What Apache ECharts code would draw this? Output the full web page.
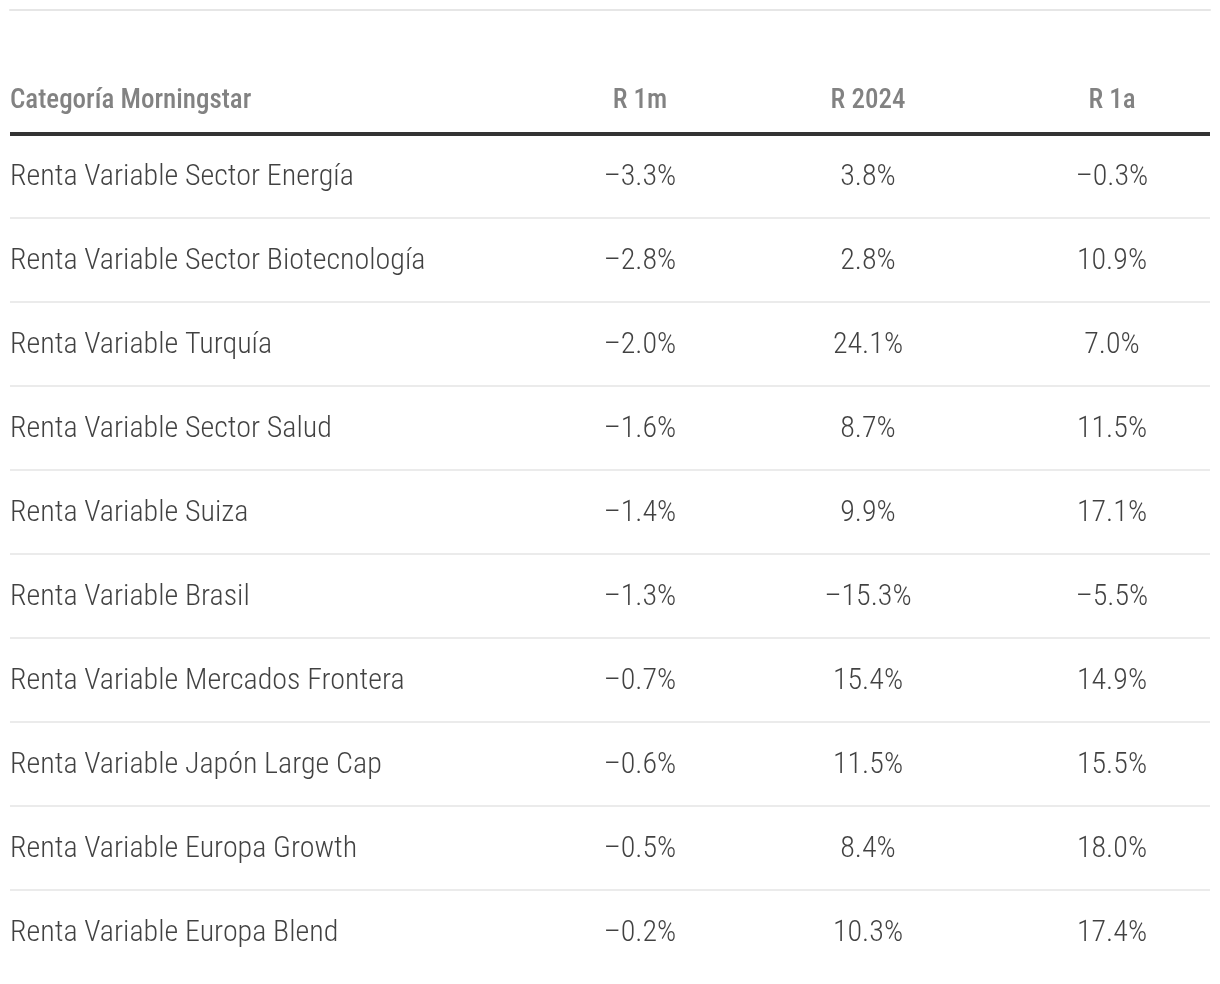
<!DOCTYPE html>
<html>
<head>
<meta charset="utf-8">
<style>
html,body{margin:0;padding:0;background:#fff;}
#chart{width:1220px;height:984px;}
</style>
<script src="https://cdn.jsdelivr.net/npm/echarts@6/dist/echarts.min.js"></script>
</head>
<body>
<div id="chart"></div>
<script>
// ---- data ----
const headers = ['Categoría Morningstar', 'R 1m', 'R 2024', 'R 1a'];
const categories = [
  'Renta Variable Sector Energía',
  'Renta Variable Sector Biotecnología',
  'Renta Variable Turquía',
  'Renta Variable Sector Salud',
  'Renta Variable Suiza',
  'Renta Variable Brasil',
  'Renta Variable Mercados Frontera',
  'Renta Variable Japón Large Cap',
  'Renta Variable Europa Growth',
  'Renta Variable Europa Blend'
];
const r1m   = [-3.3, -2.8, -2.0, -1.6, -1.4, -1.3, -0.7, -0.6, -0.5, -0.2];
const r2024 = [3.8, 2.8, 24.1, 8.7, 9.9, -15.3, 15.4, 11.5, 8.4, 10.3];
const r1a   = [-0.3, 10.9, 7.0, 11.5, 17.1, -5.5, 14.9, 15.5, 18.0, 17.4];

// ---- layout (not data) ----
const colX = [0, 630, 858, 1102];
const headerRow = -0.93;
const topRow = -1.976;
const FONT = '"Roboto Condensed","Liberation Sans Narrow","Arial Narrow","DejaVu Sans Condensed","Roboto",sans-serif';
const BODY = { fontFamily: FONT, fontSize: 30, fontWeight: 300, color: '#111111' };

function fmt(v) {
  const s = Math.abs(v).toFixed(1) + '%';
  return v < 0 ? '\u2013' + s : s;
}

const valueCols = [r1m, r2024, r1a];

const series = [];
// header row
series.push({
  type: 'scatter', symbolSize: 0, silent: true,
  data: headers.map((h, i) => ({ value: [colX[i], headerRow], name: h })),
  label: {
    show: true,
    formatter: p => p.name,
    position: 'inside', offset: [0, 3],
    fontFamily: FONT, fontSize: 27, fontWeight: 500, color: '#636363'
  }
});
series[0].data[0].label = { position: 'right', distance: 0, align: 'left', offset: [0, 3] };

// first column: category names (left aligned)
series.push({
  type: 'scatter', symbolSize: 0, silent: true,
  data: categories.map((c, i) => ({ value: [colX[0], i], name: c })),
  label: Object.assign({
    show: true, formatter: p => p.name, position: 'right', distance: 0,
    align: 'left', offset: [0, 2]
  }, BODY),
  markLine: {
    silent: true, symbol: 'none', label: { show: false }, animation: false,
    data: [{ yAxis: -0.5, lineStyle: { color: '#333333', width: 4, type: 'solid' } }]
      .concat(categories.slice(1).map((c, i) => ({
        yAxis: i + 0.5, lineStyle: { color: '#ebebeb', width: 2, type: 'solid' }
      })))
  }
});

valueCols.forEach((arr, ci) => {
  series.push({
    type: 'scatter', symbolSize: 0, silent: true,
    data: arr.map((v, i) => ({ value: [colX[ci + 1], i] })),
    label: Object.assign({
      show: true, position: 'inside', align: 'center', offset: [0, 2],
      formatter: p => fmt(arr[p.dataIndex])
    }, BODY)
  });
});

const chart = echarts.init(document.getElementById('chart'));
chart.setOption({
  animation: false,
  backgroundColor: '#ffffff',
  grid: { left: 10, right: 10, top: 10, bottom: 10 },
  xAxis: {
    type: 'value', min: 0, max: 1200, position: 'top',
    axisLine: { show: true, onZero: false, lineStyle: { color: '#e6e6e6', width: 2 } },
    axisTick: { show: false }, axisLabel: { show: false }, splitLine: { show: false }
  },
  yAxis: {
    type: 'value', inverse: true, min: topRow, max: 9.5,
    axisLine: { show: false }, axisTick: { show: false },
    axisLabel: { show: false }, splitLine: { show: false }
  },
  series: series
});
</script>
</body>
</html>
